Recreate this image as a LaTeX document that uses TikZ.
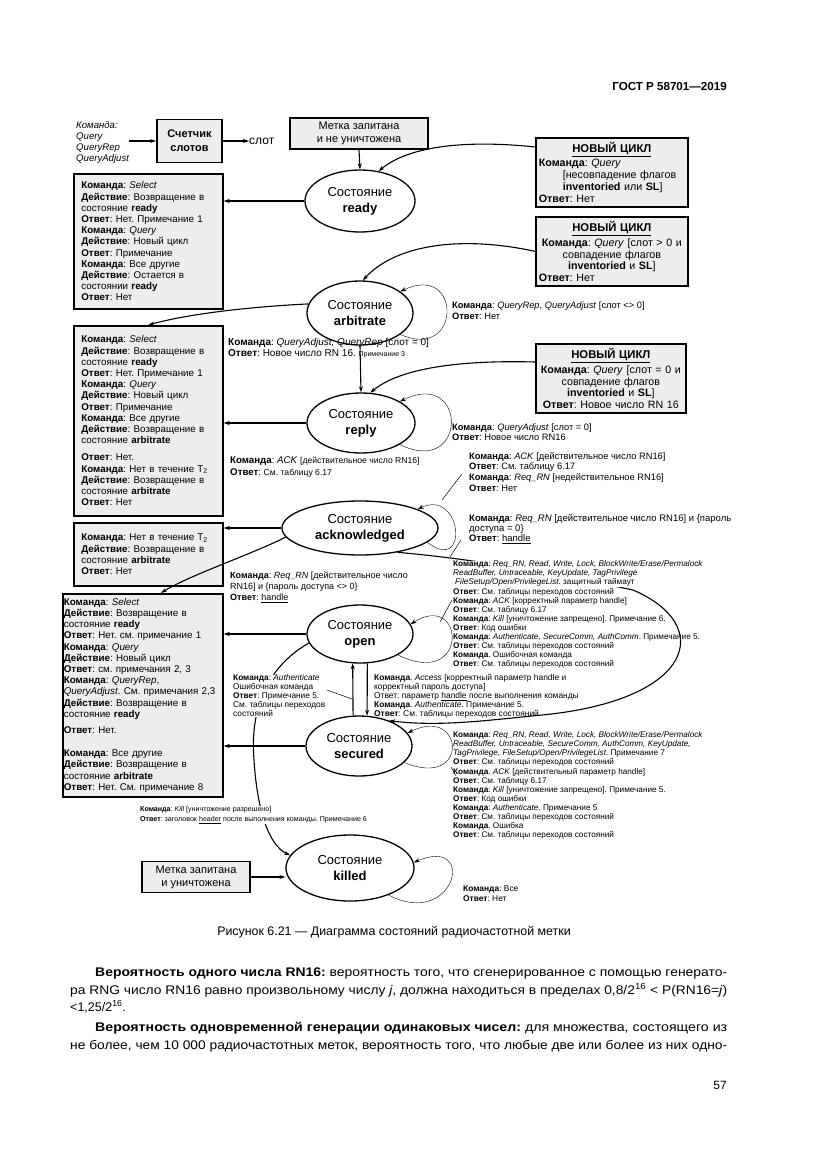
\documentclass[tikz,border=0pt]{standalone}
\usepackage{fontspec}
\setmainfont{Liberation Sans}
\usepackage{graphicx}
\usepackage{xcolor}
\usepackage{tikz}
\usetikzlibrary{arrows.meta,shapes.geometric,positioning}

\definecolor{boxgray}{gray}{0.93}
\newcommand{\kom}{\textbf{Команда}}
\newcommand{\otv}{\textbf{Ответ}}
\newcommand{\dei}{\textbf{Действие}}
\newcommand{\fsz}[2]{\fontsize{#1}{#2}\selectfont}

\begin{document}
\frenchspacing
\begin{tikzpicture}[x=1pt,y=-1pt,>={Stealth[length=6pt,width=4pt]},
state/.style={ellipse,draw,line width=1.3pt,inner sep=0pt,align=center,font=\fsz{13}{16}},
gbox/.style={draw,line width=1.7pt,fill=boxgray,inner ysep=0pt,anchor=north west,font=\fsz{9.8}{11.2}},
lbl/.style={inner sep=0pt,anchor=north west,align=left,font=\fsz{9.3}{10.8}},
smlbl/.style={lbl,font=\fsz{8.2}{9.1}},
conn/.style={line width=1.1pt},
lead/.style={line width=0.5pt}]
\useasboundingbox (0,0) rectangle (826,1169);

\node[anchor=base east,inner sep=0pt,font=\fsz{11.6}{14}\bfseries] (gost) at (727,91) {ГОСТ Р 58701—2019};

\node[lbl,font=\fsz{9.6}{11}\itshape] (cmd) at (76,121) {Команда:\\Query\\QueryRep\\QueryAdjust};
\node[gbox,anchor=center,minimum width=65,minimum height=43,align=center,font=\fsz{11}{14}\bfseries] (cnt) at (189.5,141) {Счетчик\\слотов};
\node[anchor=west,inner sep=0pt,font=\fsz{12}{14}] (slot) at (249,141) {слот};
\node[gbox,anchor=center,minimum width=138,minimum height=31,align=center,font=\fsz{11}{13}] (tagon) at (359,133.5) {Метка запитана\\и не уничтожена};

\node[state,minimum width=110,minimum height=62] (ready) at (360,201) {Состояние\\\textbf{ready}};
\node[state,minimum width=106,minimum height=64] (arb) at (360,313) {Состояние\\\textbf{arbitrate}};
\node[state,minimum width=108,minimum height=60] (reply) at (361,423) {Состояние\\\textbf{reply}};
\node[state,minimum width=156,minimum height=54] (ack) at (360,528) {Состояние\\\textbf{acknowledged}};
\node[state,minimum width=106,minimum height=58] (open) at (360,634) {Состояние\\\textbf{open}};
\node[state,minimum width=106,minimum height=60] (sec) at (359,746) {Состояние\\\textbf{secured}};
\node[state,minimum width=128,minimum height=66] (killed) at (350,868) {Состояние\\\textbf{killed}};

\node[gbox,minimum width=149,minimum height=135,text width=134,inner xsep=7.5,align=left] (boxA) at (73,173) {\kom: \textit{Select}\\\dei: Возвращение в\\состояние \textbf{ready}\\\otv: Нет. Примечание 1\\\kom: \textit{Query}\\\dei: Новый цикл\\\otv: Примечание\\\kom: Все другие\\\dei: Остается в\\состоянии \textbf{ready}\\\otv: Нет};
\node[gbox,minimum width=149,minimum height=190,text width=134,inner xsep=7.5,align=left] (boxB) at (73,325) {\kom: \textit{Select}\\\dei: Возвращение в\\состояние \textbf{ready}\\\otv: Нет. Примечание 1\\\kom: \textit{Query}\\\dei: Новый цикл\\\otv: Примечание\\\kom: Все другие\\\dei: Возвращение в\\состояние \textbf{arbitrate}\\[6pt]\otv: Нет.\\\kom: Нет в течение T\textsubscript{2}\\\dei: Возвращение в\\состояние \textbf{arbitrate}\\\otv: Нет};
\node[gbox,minimum width=149,minimum height=63,text width=134,inner xsep=7.5,align=left] (boxC) at (73,522) {\kom: Нет в течение T\textsubscript{2}\\\dei: Возвращение в\\состояние \textbf{arbitrate}\\\otv: Нет};
\node[gbox,minimum width=160,minimum height=203,text width=158,inner xsep=1,align=left] (boxD) at (62,593) {\kom: \textit{Select}\\\dei: Возвращение в\\состояние \textbf{ready}\\\otv: Нет. см. примечание 1\\\kom: \textit{Query}\\\dei: Новый цикл\\\otv: см. примечания 2, 3\\\kom: \textit{QueryRep},\\\textit{QueryAdjust}. См. примечания 2,3\\\dei: Возвращение в\\состояние \textbf{ready}\\[5pt]\otv: Нет.\\[12pt]\kom: Все другие\\\dei: Возвращение в\\состояние \textbf{arbitrate}\\\otv: Нет. См. примечание 8};

\node[gbox,minimum width=152,minimum height=69,text width=146,inner xsep=3,align=left,font=\fsz{10.7}{11.8}] (nc1) at (535,137) {\makebox[146pt]{\fsz{11.3}{12}\textbf{\underline{НОВЫЙ ЦИКЛ}}}\\[2pt]\kom: \textit{Query}\\\hspace*{24pt}[несовпадение флагов\\\hspace*{24pt}\textbf{inventoried} или \textbf{SL}]\\\otv: Нет};
\node[gbox,minimum width=152,minimum height=69,text width=146,inner xsep=3,align=center,font=\fsz{10.7}{11.8}] (nc2) at (535,216) {{\fsz{11.3}{12}\textbf{\underline{НОВЫЙ ЦИКЛ}}}\\[2pt]\kom: \textit{Query} [слот > 0 и\\совпадение флагов\\\textbf{inventoried} и \textbf{SL}]\\\makebox[146pt][l]{\otv: Нет}};
\node[gbox,minimum width=150,minimum height=69,text width=146,inner xsep=2,align=center,font=\fsz{10.7}{11.8}] (nc3) at (535,343) {{\fsz{11.3}{12}\textbf{\underline{НОВЫЙ ЦИКЛ}}}\\[2pt]\kom: \textit{Query} [слот = 0 и\\совпадение флагов\\\textbf{inventoried} и \textbf{SL}]\\\otv: Новое число RN 16};
\node[gbox,anchor=center,minimum width=108,minimum height=31,align=center,font=\fsz{11}{13}] (tagoff) at (196,877) {Метка запитана\\и уничтожена};

\draw[->,conn] (cmd.east |- cnt.west) -- (cnt.west);
\draw[->,conn] (cnt.east) -- (slot.west);
\draw[->,conn] (tagon.south) -- (ready.north);
\draw[->,conn] ([yshift=-10pt]nc1.north west) .. controls (470,140) and (410,145) .. (ready.58);
\draw[->,conn] (nc2.west) .. controls (460,235) and (395,245) .. (arb.85);
\draw[->,conn] ([yshift=-19pt]nc3.north west) .. controls (460,360) and (400,368) .. (reply.73);
\draw[->,conn] (arb.south) -- (reply.north);
\draw[->,conn] (sec.101) -- (open.-104);
\draw[->,conn] (open.-76) -- (sec.75);
\draw[->,conn] (ready.west) -- (ready.west -| boxA.east);
\draw[->,conn] (reply.west) -- (reply.west -| boxB.east);
\draw[->,conn] (ack.west) -- (ack.west -| boxC.east);
\draw[->,conn] (open.west) -- (open.west -| boxD.east);
\draw[->,conn] (sec.west) -- (sec.west -| boxD.east);
\draw[->,conn] (tagoff.east) -- (tagoff.east -| killed.west);
\draw[->,conn] (arb.170) .. controls (265,306) and (195,312) .. (boxB.north);
\draw[->,conn] (ack.187) .. controls (250,555) and (190,575) .. ([xshift=18pt]boxD.north);
\draw[->,conn] (open.190) .. controls (265,668) and (250,712) .. (254,760) .. controls (257,808) and (268,845) .. (killed.168);
\draw[->,conn] (ack.-33) .. controls (450,557) and (520,566) .. (633,590) .. controls (715,625) and (695,700) .. (542,715) .. controls (490,720) and (440,727) .. (sec.40);
\draw[->] (arb.-28) .. controls (462,362) and (462,262) .. (arb.28);
\draw[->] (reply.-29) .. controls (468,478) and (468,368) .. (reply.29);
\draw[->] (ack.-12) .. controls (470,575) and (462,488) .. (ack.18);
\draw[->] (open.-29) .. controls (470,690) and (465,590) .. (open.11);
\draw[->] (sec.-20) .. controls (470,790) and (465,705) .. (sec.15);
\draw[->] (killed.-35) .. controls (455,930) and (478,835) .. (killed.5);

\node[lbl] (arbloop) at (452,302) {\kom: \textit{QueryRep}, \textit{QueryAdjust} [слот <> 0]\\\otv: Нет};
\node[lbl,font=\fsz{10}{11}] (arbreply) at (228,338.5) {\kom: \textit{QueryAdjust, QueryRep} [слот = 0]\\\otv: Новое число RN 16. {\fsz{7}{8}Примечание 3}};
\node[lbl,font=\fsz{9.3}{10}] (replyloop) at (452,424) {\kom: \textit{QueryAdjust} [слот = 0]\\\otv: Новое число RN16};
\node[lbl,font=\fsz{9.7}{12}] (replyack) at (230,456.5) {\kom: \textit{ACK} {\fsz{8.6}{9}[действительное число RN16]}\\\otv: {\fsz{8.6}{9}См. таблицу 6.17}};
\node[lbl] (ackloop) at (469,452) {\kom: \textit{ACK} [действительное число RN16]\\\otv: См. таблицу 6.17\\\kom: \textit{Req\_RN} [недействительное RN16]\\\otv: Нет};
\node[lbl,font=\fsz{9.5}{10}] (acksec) at (469,514) {\kom: \textit{Req\_RN} [действительное число RN16] и \{пароль\\доступа = 0\}\\\otv: \underline{handle}};
\node[lbl,font=\fsz{9}{11}] (ackopen) at (230,572) {\kom: \textit{Req\_RN} [действительное число\\RN16] и \{пароль доступа <> 0\}\\\otv: \underline{handle}};
\node[smlbl,fill=white] (openA) at (453,560.5) {\kom: \textit{Req\_RN, Read, Write, Lock, BlockWrite/Erase/Permalock}\\\textit{ReadBuffer, Untraceable, KeyUpdate, TagPrivilege}\\\hspace*{2pt}\textit{FileSetup/Open/PrivilegeList}. защитный таймаут};
\node[smlbl] (openB) at (453,587.8) {\otv: См. таблицы переходов состояний\\\kom: \textit{ACK} [корректный параметр handle]\\\otv: См. таблицу 6.17\\\kom: \textit{Kill} [уничтожение запрещено]. Примечание 6.\\\otv: Код ошибки\\\kom: \textit{Authenticate, SecureComm, AuthComm}. Примечание 5.\\\otv: См. таблицы переходов состояний\\\kom. Ошибочная команда\\\otv: См. таблицы переходов состояний};
\node[lbl,font=\fsz{8.4}{9}] (opensec) at (374,674.5) {\kom. \textit{Access} [корректный параметр handle и\\корректный пароль доступа]\\Ответ: параметр \underline{handle} после выполнения команды\\\kom. \textit{Authenticate}. Примечание 5.\\\otv: См. таблицы переходов состояний};
\node[lbl,font=\fsz{8.3}{9},fill=white] (secopen) at (233,674.5) {\kom: \textit{Authenticate}\\Ошибочная команда\\\otv: Примечание 5.\\См. таблицы переходов\\состояний};
\node[smlbl] (secloop) at (453,731.5) {\kom: \textit{Req\_RN, Read, Write, Lock, BlockWrite/Erase/Permalock}\\\textit{ReadBuffer, Untraceable, SecureComm, AuthComm, KeyUpdate,}\\\textit{TagPrivilege, FileSetup/Open/PrivilegeList}. Примечание 7\\\otv: См. таблицы переходов состояний\\\kom. \textit{ACK} [действительный параметр handle]\\\otv: См. таблицу 6.17\\\kom: \textit{Kill} [уничтожение запрещено]. Примечание 5.\\\otv: Код ошибки\\\kom: \textit{Authenticate}. Примечание 5\\\otv: См. таблицы переходов состояний\\\kom. Ошибка\\\otv: См. таблицы переходов состояний};
\node[lbl,font=\fsz{7.1}{10.5},fill=white] (secKill) at (140,806) {\kom: \textit{Kill} [уничтожение разрешено]\\\otv: заголовок \underline{header} после выполнения команды. Примечание 6};
\node[lbl,font=\fsz{8.4}{10}] (killloop) at (463,885.5) {\kom: Все\\\otv: Нет};

\coordinate (ld1) at (442,500); \coordinate (ld2) at (462,474);
\coordinate (ld3) at (450,557); \coordinate (ld4) at (461,540);
\coordinate (ld5) at (440,622); \coordinate (ld6) at (452,600);
\coordinate (ld7) at (451,767); \coordinate (ld8) at (456,776);
\coordinate (ld9) at (327,690); \coordinate (ld10) at (352,699);
\draw[lead] (ld1) -- (ld2);
\draw[lead] (ld3) -- (ld4);
\draw[lead] (ld5) -- (ld6);
\draw[lead] (ld7) -- (ld8);
\draw[lead] (ld9) -- (ld10);

\node[font=\fsz{12.4}{14}] (caption) at (394,932) {Рисунок 6.21 — Диаграмма состояний радиочастотной метки};
\node[anchor=base west,inner sep=0pt,font=\fsz{12.5}{15}] (par1) at (95,976) {\resizebox{632pt}{\height}{\textbf{Вероятность одного числа RN16:} вероятность того, что сгенерированное с помощью генерато-}};
\node[anchor=base west,inner sep=0pt,font=\fsz{12.5}{15}] (par2) at (70,994) {\resizebox{657pt}{\height}{ра RNG число RN16 равно произвольному числу \textit{j}, должна находиться в пределах 0,8/2\textsuperscript{16} < P(RN16=\textit{j})}};
\node[anchor=base west,inner sep=0pt,font=\fsz{12.5}{15}] (par3) at (70,1011) {<1,25/2\textsuperscript{16}.};
\node[anchor=base west,inner sep=0pt,font=\fsz{12.5}{15}] (par4) at (95,1031) {\resizebox{632pt}{\height}{\textbf{Вероятность одновременной генерации одинаковых чисел:} для множества, состоящего из}};
\node[anchor=base west,inner sep=0pt,font=\fsz{12.5}{15}] (par5) at (70,1049) {\resizebox{657pt}{\height}{не более, чем 10 000 радиочастотных меток, вероятность того, что любые две или более из них одно-}};
\node[anchor=base east,inner sep=0pt,font=\fsz{12}{14}] (pagenum) at (727,1089) {57};
\end{tikzpicture}
\end{document}
